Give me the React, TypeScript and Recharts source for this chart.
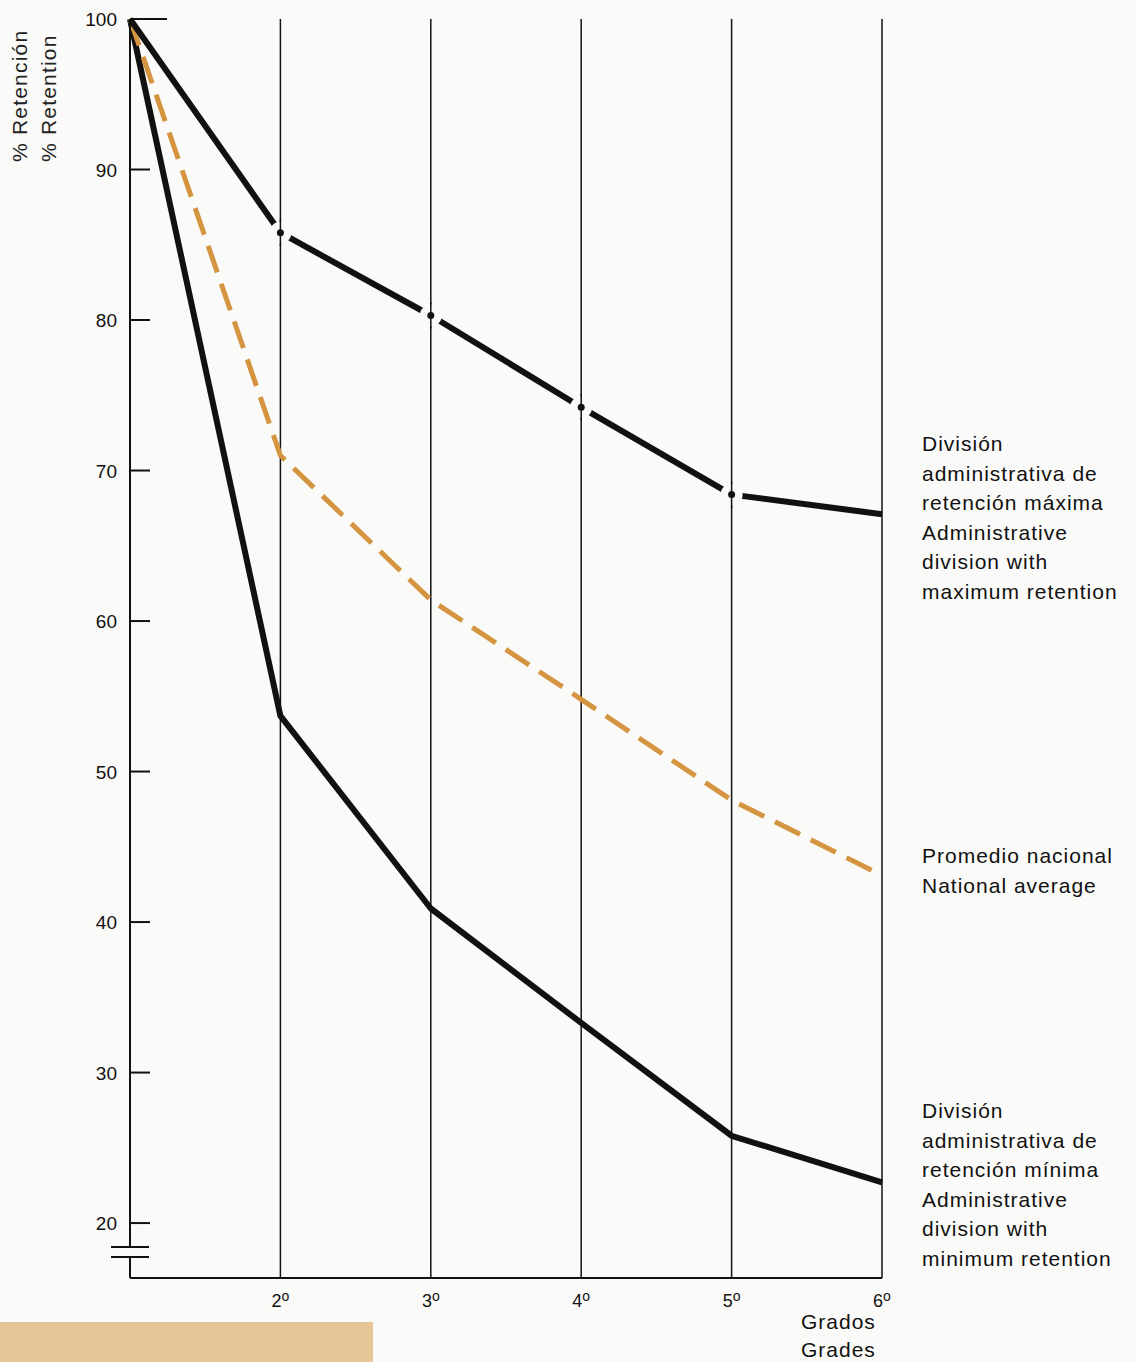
import React from "react"
import {
  LineChart,
  Line,
  XAxis,
  YAxis,
  CartesianGrid,
} from "recharts"

const grados = [1, 2, 3, 4, 5, 6]
const retencionMaxima = [100, 85.8, 80.3, 74.2, 68.4, 67.1]
const promedioNacional = [100, 71.0, 61.4, 54.8, 48.1, 43.1]
const retencionMinima = [100, 53.7, 40.9, 33.3, 25.8, 22.7]

const ticksY = [20, 30, 40, 50, 60, 70, 80, 90, 100]
const ticksX = [2, 3, 4, 5, 6]

const fondo = "#fafaf8"
const negro = "#111"
const naranja = "#d49440"
const fuente = "'Liberation Sans', Arial, sans-serif"

const datos = grados.map((g, i) => ({
  grado: g,
  maxima: retencionMaxima[i],
  promedio: promedioNacional[i],
  minima: retencionMinima[i],
}))

function TickY(props: any) {
  const { x, y, payload } = props
  const largo = payload.value === 100 ? 37 : 20
  return (
    <g>
      <line x1={x} y1={y} x2={x + largo} y2={y} stroke={negro} strokeWidth={2} />
      <text
        x={x - 13}
        y={y + 7}
        textAnchor="end"
        fontSize={19}
        fontFamily={fuente}
        fill={negro}
      >
        {payload.value}
      </text>
      {payload.value === 20 && (
        <g>
          <rect x={x - 3} y={y + 25} width={6} height={8} fill={fondo} />
          <line x1={x - 19} y1={y + 24} x2={x + 19} y2={y + 24} stroke={negro} strokeWidth={2} />
          <line x1={x - 19} y1={y + 34} x2={x + 19} y2={y + 34} stroke={negro} strokeWidth={2} />
        </g>
      )}
    </g>
  )
}

function TickX(props: any) {
  const { x, y, payload } = props
  return (
    <text
      x={x}
      y={y + 29}
      textAnchor="middle"
      fontSize={18}
      fontFamily={fuente}
      fill={negro}
    >
      {payload.value}
      <tspan fontSize={14} dy={-6}>o</tspan>
    </text>
  )
}

function PuntoMaxima(props: any) {
  const { cx, cy, index } = props
  if (index === 0 || index === grados.length - 1) return <g key={index} />
  return (
    <g key={index}>
      <circle cx={cx} cy={cy} r={11} fill={fondo} />
      <line x1={cx} y1={cy - 13} x2={cx} y2={cy + 13} stroke={negro} strokeWidth={1.5} />
      <circle cx={cx} cy={cy} r={3.5} fill={negro} />
    </g>
  )
}

const etiqueta: React.CSSProperties = {
  position: "absolute",
  left: 922,
  fontFamily: fuente,
  fontSize: 21,
  lineHeight: "29.5px",
  letterSpacing: 1,
  color: negro,
  whiteSpace: "nowrap",
}

export default function App() {
  return (
    <div
      style={{
        position: "absolute",
        left: 0,
        top: 0,
        width: 1136,
        height: 1362,
        background: fondo,
        overflow: "hidden",
      }}
    >
      <LineChart
        width={1136}
        height={1362}
        data={datos}
        margin={{ top: 19, right: 254, bottom: 0, left: 0 }}
      >
        <CartesianGrid horizontal={false} stroke={negro} strokeWidth={1.5} />
        <XAxis
          dataKey="grado"
          type="number"
          domain={[1, 6]}
          ticks={ticksX}
          height={84}
          tickLine={false}
          tickSize={0}
          tickMargin={0}
          axisLine={{ stroke: negro, strokeWidth: 2 }}
          tick={<TickX />}
        />
        <YAxis
          type="number"
          domain={[16.35, 100]}
          ticks={ticksY}
          width={130}
          tickLine={false}
          tickSize={0}
          tickMargin={0}
          axisLine={{ stroke: negro, strokeWidth: 2 }}
          tick={<TickY />}
        />
        <Line
          dataKey="minima"
          stroke={negro}
          strokeWidth={6}
          strokeLinejoin="round"
          dot={false}
          isAnimationActive={false}
        />
        <Line
          dataKey="promedio"
          stroke={naranja}
          strokeWidth={5}
          strokeDasharray="28 12"
          dot={false}
          isAnimationActive={false}
        />
        <Line
          dataKey="maxima"
          stroke={negro}
          strokeWidth={6}
          strokeLinejoin="round"
          dot={<PuntoMaxima />}
          isAnimationActive={false}
        />
      </LineChart>

      <div
        style={{
          position: "absolute",
          left: 5,
          top: 162,
          transformOrigin: "0 0",
          transform: "rotate(-90deg)",
          fontFamily: fuente,
          fontSize: 21,
          lineHeight: "29px",
          letterSpacing: 1.2,
          color: "#222",
          whiteSpace: "nowrap",
        }}
      >
        % Retención
        <br />% Retention
      </div>

      <div style={{ ...etiqueta, top: 429 }}>
        División
        <br />
        administrativa de
        <br />
        retención máxima
        <br />
        Administrative
        <br />
        division with
        <br />
        maximum retention
      </div>
      <div style={{ ...etiqueta, top: 841 }}>
        Promedio nacional
        <br />
        National average
      </div>
      <div style={{ ...etiqueta, top: 1096 }}>
        División
        <br />
        administrativa de
        <br />
        retención mínima
        <br />
        Administrative
        <br />
        division with
        <br />
        minimum retention
      </div>

      <div
        style={{
          position: "absolute",
          left: 801,
          top: 1308,
          fontFamily: fuente,
          fontSize: 21,
          lineHeight: "28px",
          letterSpacing: 1,
          color: negro,
        }}
      >
        Grados
        <br />
        Grades
      </div>

      <div
        style={{
          position: "absolute",
          left: 0,
          top: 1322,
          width: 373,
          height: 40,
          background: "#e6c697",
        }}
      />
    </div>
  )
}
